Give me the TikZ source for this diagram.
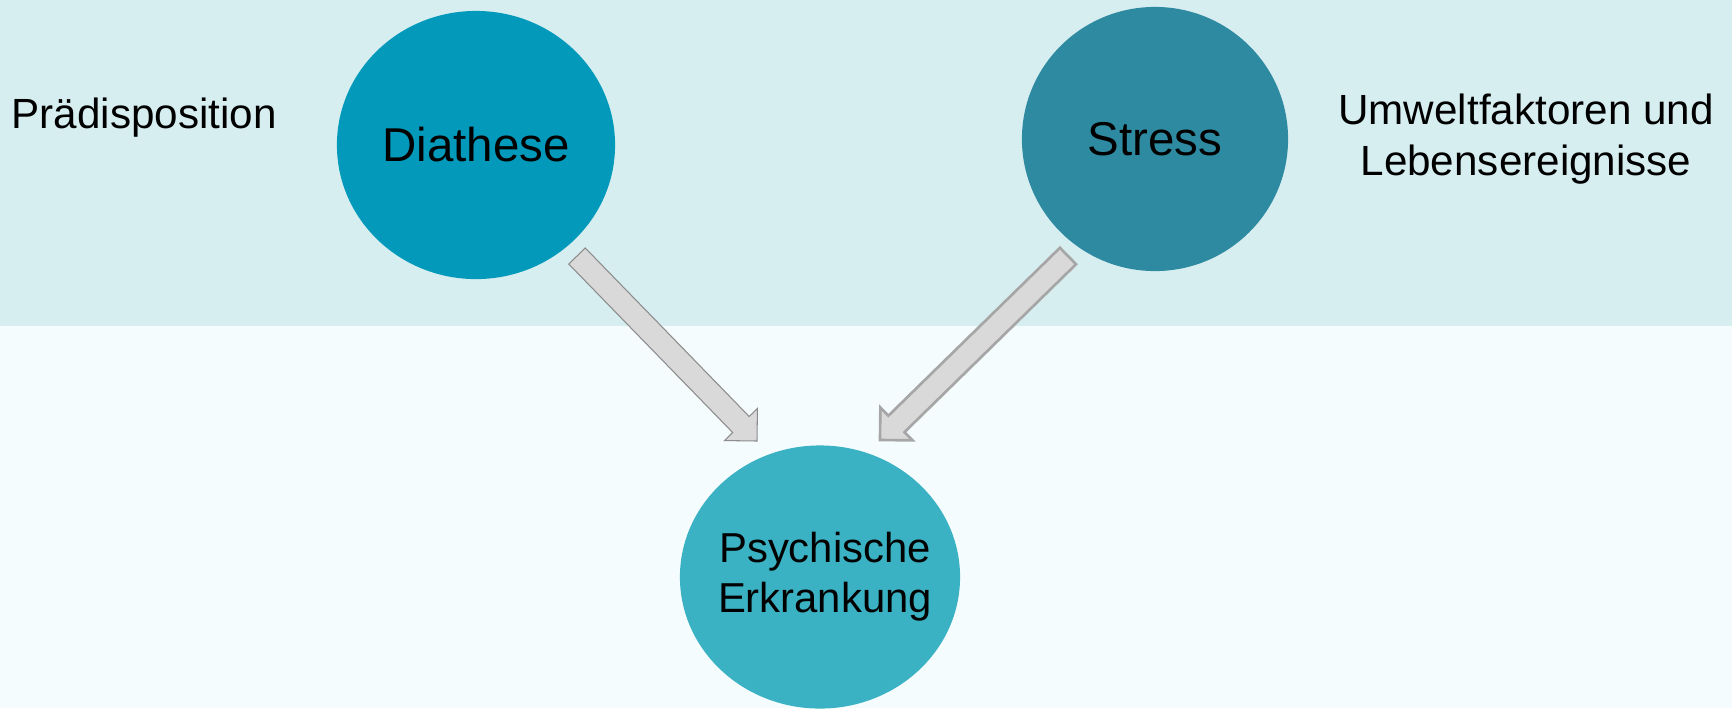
\documentclass[tikz,border=0pt]{standalone}
\usepackage{fontspec}
\setmainfont{Liberation Sans}
\usetikzlibrary{shapes,arrows,calc}
\definecolor{bandtop}{HTML}{D7EEF1}
\definecolor{bandbot}{HTML}{F5FCFE}
\definecolor{diacol}{HTML}{0399BA}
\definecolor{strcol}{HTML}{2E8AA0}
\definecolor{psycol}{HTML}{3BB2C4}
\definecolor{arrowfill}{HTML}{D9D9D9}

\begin{document}
\begin{tikzpicture}[
    x=0.01cm, y=-0.01cm,
    factor/.style={ellipse, minimum width=2.78cm, minimum height=2.68cm, inner sep=0pt, text centered, fill=#1, font=\fontsize{13.5}{16}\selectfont},
    outcome/.style={ellipse, minimum width=2.80cm, minimum height=2.63cm, inner sep=0pt, fill=psycol},
    sidelabel/.style={inner sep=0pt, align=center, font=\fontsize{12}{14.5}\selectfont},
    thinarrow/.style={fill=arrowfill, draw=black!45, line width=0.3pt, line join=miter},
    thickarrow/.style={fill=arrowfill, draw=black!35, line width=0.75pt, line join=miter}
]
\useasboundingbox (0,0) rectangle (1732,708);
\fill [bandbot] (0,0) rectangle (1732,708);
\fill [bandtop] (0,0) rectangle (1732,326);

\node (fac1) [factor=diacol] at (476,145) {Diathese};
\node (fac2) [factor=strcol, minimum width=2.66cm, minimum height=2.64cm] at (1155,139) {Stress};
\node (out1) [outcome, label={[sidelabel, font=\fontsize{11.9}{14.2}\selectfont, xshift=0.05cm]center:Psychische\\Erkrankung}] at (820,577) {};
\node (lab1) [sidelabel, anchor=base west] at (11,128) {Prädisposition};
\node (lab2) [sidelabel] at (1526,139) {Umweltfaktoren und\\Lebensereignisse};

% block arrows
\coordinate (t1) at (577,256);
\coordinate (h1) at (757,441);
\coordinate (b1) at ($(h1)!0.23cm!(t1)$);
\coordinate (t2) at (1068,256);
\coordinate (h2) at (880,440);
\coordinate (b2) at ($(h2)!0.23cm!(t2)$);

\draw [thinarrow] ($(t1)!0.115cm!90:(h1)$) -- ($(b1)!0.115cm!90:(h1)$) -- ($(b1)!0.23cm!90:(h1)$) -- (h1)
    -- ($(b1)!0.23cm!-90:(h1)$) -- ($(b1)!0.115cm!-90:(h1)$) -- ($(t1)!0.115cm!-90:(h1)$) -- cycle;
\draw [thickarrow] ($(t2)!0.115cm!90:(h2)$) -- ($(b2)!0.115cm!90:(h2)$) -- ($(b2)!0.23cm!90:(h2)$) -- (h2)
    -- ($(b2)!0.23cm!-90:(h2)$) -- ($(b2)!0.115cm!-90:(h2)$) -- ($(t2)!0.115cm!-90:(h2)$) -- cycle;
\end{tikzpicture}
\end{document}
